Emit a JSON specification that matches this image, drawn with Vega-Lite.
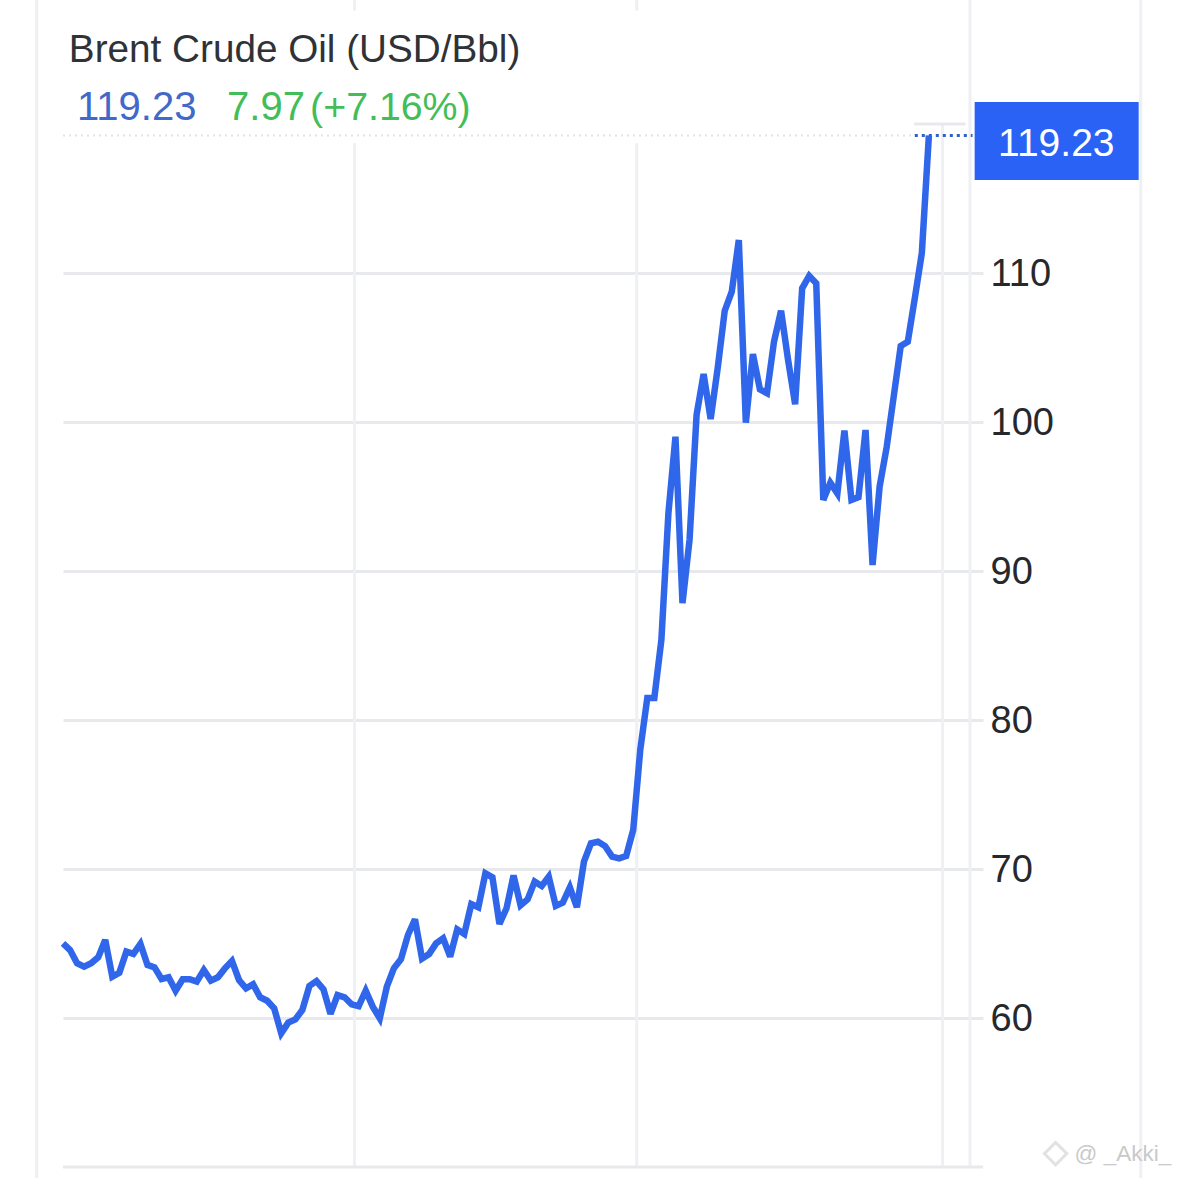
{
  "$schema": "https://vega.github.io/schema/vega-lite/v6.json",
  "description": "Brent crude oil price, USD per barrel",
  "width": 907,
  "height": 1167,
  "autosize": "none",
  "padding": {"left": 63, "top": 0, "right": 208, "bottom": 11},
  "background": "#ffffff",
  "config": {"view": {"stroke": null}, "font": "Liberation Sans"},
  "resolve": {"axis": {"y": "independent", "x": "independent"}},
  "datasets": {
    "one": [{}],
    "last": [{"Day": 123, "Price": 119.23}],
    "verticals": [
      {"Day": -3.74, "Low": 49.2, "High": 128.32},
      {"Day": 153.1, "Low": 49.2, "High": 128.32},
      {"Day": 41.4, "Low": 50, "High": 118.7},
      {"Day": 41.4, "Low": 127.6, "High": 128.32},
      {"Day": 81.5, "Low": 50, "High": 118.7},
      {"Day": 81.5, "Low": 127.6, "High": 128.32},
      {"Day": 124.95, "Low": 50, "High": 120},
      {"Day": 128.84, "Low": 50, "High": 128.32}
    ],
    "prices": [
      {"Day": 0, "Price": 65.01}, {"Day": 1, "Price": 64.56}, {"Day": 2, "Price": 63.67}, {"Day": 3, "Price": 63.45},
      {"Day": 4, "Price": 63.67}, {"Day": 5, "Price": 64.07}, {"Day": 6, "Price": 65.24}, {"Day": 7, "Price": 62.77},
      {"Day": 8, "Price": 63.04}, {"Day": 9, "Price": 64.45}, {"Day": 10, "Price": 64.3}, {"Day": 11, "Price": 64.97},
      {"Day": 12, "Price": 63.56}, {"Day": 13, "Price": 63.4}, {"Day": 14, "Price": 62.62}, {"Day": 15, "Price": 62.73},
      {"Day": 16, "Price": 61.83}, {"Day": 17, "Price": 62.6}, {"Day": 18, "Price": 62.6}, {"Day": 19, "Price": 62.44},
      {"Day": 20, "Price": 63.22}, {"Day": 21, "Price": 62.51}, {"Day": 22, "Price": 62.73}, {"Day": 23, "Price": 63.33},
      {"Day": 24, "Price": 63.83}, {"Day": 25, "Price": 62.55}, {"Day": 26, "Price": 61.99}, {"Day": 27, "Price": 62.26},
      {"Day": 28, "Price": 61.39}, {"Day": 29, "Price": 61.16}, {"Day": 30, "Price": 60.65}, {"Day": 31, "Price": 58.97},
      {"Day": 32, "Price": 59.69}, {"Day": 33, "Price": 59.91}, {"Day": 34, "Price": 60.54}, {"Day": 35, "Price": 62.15},
      {"Day": 36, "Price": 62.48}, {"Day": 37, "Price": 61.92}, {"Day": 38, "Price": 60.27}, {"Day": 39, "Price": 61.54},
      {"Day": 40, "Price": 61.39}, {"Day": 41, "Price": 60.92}, {"Day": 42, "Price": 60.8}, {"Day": 43, "Price": 61.83},
      {"Day": 44, "Price": 60.76}, {"Day": 45, "Price": 59.98}, {"Day": 46, "Price": 62.1}, {"Day": 47, "Price": 63.33},
      {"Day": 48, "Price": 63.94}, {"Day": 49, "Price": 65.57}, {"Day": 50, "Price": 66.62}, {"Day": 51, "Price": 63.98},
      {"Day": 52, "Price": 64.29}, {"Day": 53, "Price": 65.01}, {"Day": 54, "Price": 65.35}, {"Day": 55, "Price": 64.12},
      {"Day": 56, "Price": 65.95}, {"Day": 57, "Price": 65.64}, {"Day": 58, "Price": 67.65}, {"Day": 59, "Price": 67.43},
      {"Day": 60, "Price": 69.71}, {"Day": 61, "Price": 69.44}, {"Day": 62, "Price": 66.31}, {"Day": 63, "Price": 67.36},
      {"Day": 64, "Price": 69.57}, {"Day": 65, "Price": 67.56}, {"Day": 66, "Price": 67.96}, {"Day": 67, "Price": 69.15},
      {"Day": 68, "Price": 68.86}, {"Day": 69, "Price": 69.48}, {"Day": 70, "Price": 67.52}, {"Day": 71, "Price": 67.74},
      {"Day": 72, "Price": 68.77}, {"Day": 73, "Price": 67.43}, {"Day": 74, "Price": 70.49}, {"Day": 75, "Price": 71.72},
      {"Day": 76, "Price": 71.83}, {"Day": 77, "Price": 71.54}, {"Day": 78, "Price": 70.83}, {"Day": 79, "Price": 70.71},
      {"Day": 80, "Price": 70.87}, {"Day": 81, "Price": 72.62}, {"Day": 82, "Price": 77.99}, {"Day": 83, "Price": 81.48},
      {"Day": 84, "Price": 81.48}, {"Day": 85, "Price": 85.37}, {"Day": 86, "Price": 93.89}, {"Day": 87, "Price": 99.01},
      {"Day": 88, "Price": 87.85}, {"Day": 89, "Price": 92.08}, {"Day": 90, "Price": 100.47}, {"Day": 91, "Price": 103.22},
      {"Day": 92, "Price": 100.2}, {"Day": 93, "Price": 103.62}, {"Day": 94, "Price": 107.47}, {"Day": 95, "Price": 108.74},
      {"Day": 96, "Price": 112.21}, {"Day": 97, "Price": 99.95}, {"Day": 98, "Price": 104.56}, {"Day": 99, "Price": 102.19},
      {"Day": 100, "Price": 101.93}, {"Day": 101, "Price": 105.39}, {"Day": 102, "Price": 107.47}, {"Day": 103, "Price": 104.16},
      {"Day": 104, "Price": 101.19}, {"Day": 105, "Price": 108.97}, {"Day": 106, "Price": 109.8}, {"Day": 107, "Price": 109.31},
      {"Day": 108, "Price": 94.77}, {"Day": 109, "Price": 95.93}, {"Day": 110, "Price": 95.21}, {"Day": 111, "Price": 99.42},
      {"Day": 112, "Price": 94.77}, {"Day": 113, "Price": 94.95}, {"Day": 114, "Price": 99.46}, {"Day": 115, "Price": 90.4},
      {"Day": 116, "Price": 95.66}, {"Day": 117, "Price": 98.3}, {"Day": 118, "Price": 101.7}, {"Day": 119, "Price": 105.1},
      {"Day": 120, "Price": 105.39}, {"Day": 121, "Price": 108.3}, {"Day": 122, "Price": 111.34}, {"Day": 123, "Price": 119.23}
    ]
  },
  "layer": [
    {
      "data": {"name": "prices"},
      "mark": {"type": "line", "opacity": 0},
      "encoding": {
        "x": {"field": "Day", "type": "quantitative", "axis": null, "scale": {"domain": [0, 128.84], "nice": false, "zero": false}},
        "y": {
          "field": "Price",
          "type": "quantitative",
          "title": null,
          "scale": {"domain": [50, 128.32], "nice": false, "zero": false},
          "axis": {
            "orient": "right",
            "values": [60, 70, 80, 90, 100, 110],
            "domain": false,
            "grid": true,
            "gridColor": "#e7e9ec",
            "gridWidth": 3,
            "ticks": true,
            "tickSize": 13,
            "tickWidth": 3,
            "tickColor": "#e7e9ec",
            "labelPadding": 7,
            "labelOffset": 2,
            "labelFontSize": 38,
            "labelColor": "#26282c",
            "labelFont": "Liberation Sans"
          }
        }
      }
    },
    {
      "data": {"name": "verticals"},
      "mark": {"type": "rule", "color": "#eef0f3", "strokeWidth": 3},
      "encoding": {
        "x": {"field": "Day", "type": "quantitative", "axis": null},
        "y": {"field": "Low", "type": "quantitative", "axis": null},
        "y2": {"field": "High"}
      }
    },
    {
      "data": {"name": "one"},
      "mark": {"type": "rule", "color": "#e7e9ec", "strokeWidth": 3},
      "encoding": {
        "x": {"datum": 0, "type": "quantitative", "axis": null},
        "x2": {"datum": 130.7},
        "y": {"datum": 50, "type": "quantitative", "axis": null}
      }
    },
    {
      "data": {"name": "one"},
      "mark": {"type": "rule", "color": "#e7e9ec", "strokeWidth": 3},
      "encoding": {
        "x": {"datum": 120.9, "type": "quantitative", "axis": null},
        "x2": {"datum": 128.2},
        "y": {"datum": 120, "type": "quantitative", "axis": null}
      }
    },
    {
      "data": {"name": "last"},
      "mark": {"type": "rule", "color": "#dfe3e8", "strokeWidth": 2, "strokeDash": [2, 4]},
      "encoding": {
        "x": {"datum": 0, "type": "quantitative", "axis": null},
        "x2": {"datum": 121},
        "y": {"field": "Price", "type": "quantitative", "axis": null}
      }
    },
    {
      "data": {"name": "last"},
      "mark": {"type": "rule", "color": "#2f5fc8", "strokeWidth": 3, "strokeDash": [3, 4]},
      "encoding": {
        "x": {"datum": 121, "type": "quantitative", "axis": null},
        "x2": {"datum": 129.2},
        "y": {"field": "Price", "type": "quantitative", "axis": null}
      }
    },
    {
      "data": {"name": "prices"},
      "mark": {"type": "line", "color": "#2f66ea", "strokeWidth": 6.5, "strokeJoin": "miter", "strokeMiterLimit": 3},
      "encoding": {
        "x": {"field": "Day", "type": "quantitative", "axis": null},
        "y": {"field": "Price", "type": "quantitative", "axis": null}
      }
    },
    {
      "data": {"name": "one"},
      "mark": {"type": "rect", "color": "#2962f5"},
      "encoding": {
        "x": {"datum": 129.5, "type": "quantitative", "axis": null},
        "x2": {"datum": 152.8},
        "y": {"datum": 121.48, "type": "quantitative", "axis": null},
        "y2": {"datum": 116.24}
      }
    },
    {
      "data": {"name": "last"},
      "mark": {"type": "text", "color": "#ffffff", "fontSize": 39, "align": "center", "baseline": "alphabetic"},
      "encoding": {
        "x": {"datum": 141.1, "type": "quantitative", "axis": null},
        "y": {"datum": 117.85, "type": "quantitative", "axis": null},
        "text": {"field": "Price", "type": "quantitative", "format": ".2f"}
      }
    },
    {
      "data": {"name": "one"},
      "mark": {"type": "text", "text": "Brent Crude Oil (USD/Bbl)", "color": "#2f3237", "fontSize": 38.7, "align": "left", "baseline": "alphabetic"},
      "encoding": {
        "x": {"datum": 0.83, "type": "quantitative", "axis": null},
        "y": {"datum": 124.16, "type": "quantitative", "axis": null}
      }
    },
    {
      "data": {"name": "last"},
      "mark": {"type": "text", "color": "#4169c9", "fontSize": 40, "align": "left", "baseline": "alphabetic"},
      "encoding": {
        "x": {"datum": 2, "type": "quantitative", "axis": null},
        "y": {"datum": 120.27, "type": "quantitative", "axis": null},
        "text": {"field": "Price", "type": "quantitative", "format": ".2f"}
      }
    },
    {
      "data": {"name": "one"},
      "mark": {"type": "text", "text": "7.97", "color": "#42bd58", "fontSize": 40, "align": "left", "baseline": "alphabetic"},
      "encoding": {
        "x": {"datum": 23.3, "type": "quantitative", "axis": null},
        "y": {"datum": 120.27, "type": "quantitative", "axis": null}
      }
    },
    {
      "data": {"name": "one"},
      "mark": {"type": "text", "text": "(+7.16%)", "color": "#42bd58", "fontSize": 39.3, "align": "left", "baseline": "alphabetic"},
      "encoding": {
        "x": {"datum": 35.1, "type": "quantitative", "axis": null},
        "y": {"datum": 120.27, "type": "quantitative", "axis": null}
      }
    },
    {
      "data": {"name": "one"},
      "mark": {"type": "point", "shape": "diamond", "size": 500, "filled": false, "color": "#e2e2e2", "strokeWidth": 3, "opacity": 1},
      "encoding": {
        "x": {"datum": 141, "type": "quantitative", "axis": null},
        "y": {"datum": 50.9, "type": "quantitative", "axis": null}
      }
    },
    {
      "data": {"name": "one"},
      "mark": {"type": "text", "text": "@ _Akki_", "color": "#c9c9c9", "fontSize": 22.5, "align": "left", "baseline": "alphabetic"},
      "encoding": {
        "x": {"datum": 143.7, "type": "quantitative", "axis": null},
        "y": {"datum": 50.4, "type": "quantitative", "axis": null}
      }
    }
  ]
}
